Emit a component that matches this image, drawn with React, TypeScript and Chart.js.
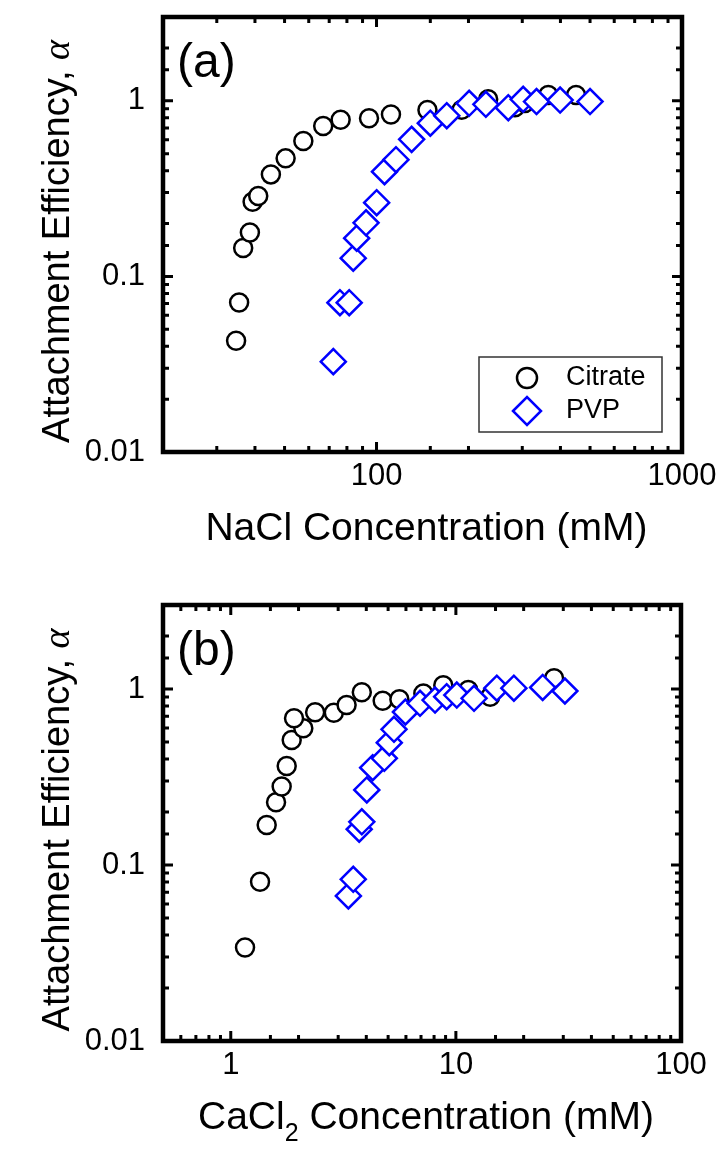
import React, { useEffect, useRef } from 'react';
import { Chart, registerables } from 'chart.js';

Chart.register(...registerables);

// ---- Panel (a): NaCl ----
const citrateNaClX = [34.7, 35.5, 36.6, 38.5, 39.3, 41.0, 45.1, 50.4, 57.6, 66.9, 76.3, 94.5, 111.5, 146.8, 190, 232, 284, 306, 365, 450];
const citrateNaClY = [0.043, 0.071, 0.145, 0.178, 0.266, 0.287, 0.381, 0.47, 0.59, 0.718, 0.78, 0.795, 0.835, 0.886, 0.89, 1.02, 0.918, 0.97, 1.08, 1.08];
const pvpNaClX = [72.2, 75.9, 81.4, 83.9, 86.1, 92.4, 100.1, 106.2, 115.8, 130.3, 150, 169.8, 201, 228, 270, 302, 334, 399, 500];
const pvpNaClY = [0.0327, 0.0708, 0.0708, 0.127, 0.165, 0.202, 0.263, 0.395, 0.462, 0.603, 0.745, 0.822, 0.967, 0.955, 0.913, 1.02, 0.99, 1.01, 0.99];

// ---- Panel (b): CaCl2 ----
const citrateCaClX = [1.157, 1.349, 1.444, 1.589, 1.683, 1.772, 1.865, 2.1, 1.91, 2.37, 2.87, 3.27, 3.82, 4.73, 5.61, 7.17, 8.79, 11.35, 14.2, 27.3];
const citrateCaClY = [0.034, 0.0803, 0.1687, 0.227, 0.279, 0.365, 0.513, 0.598, 0.681, 0.737, 0.733, 0.811, 0.957, 0.857, 0.874, 0.942, 1.05, 0.986, 0.904, 1.15];
const pvpCaClX = [3.33, 3.5, 3.72, 3.82, 4.02, 4.27, 4.81, 5.06, 5.31, 5.97, 6.93, 8.08, 9.1, 10.09, 12.04, 15.2, 18.1, 24.3, 30.5];
const pvpCaClY = [0.0667, 0.0829, 0.1596, 0.176, 0.267, 0.357, 0.404, 0.495, 0.59, 0.74, 0.829, 0.865, 0.904, 0.924, 0.885, 1.01, 1.01, 1.02, 0.974];

// ---- Tick labels ----
const naclTickLabels = [100, 1000];
const caclTickLabels = [1, 10, 100];
const alphaTickLabels = [0.01, 0.1, 1];

const seriesNames = ['Citrate', 'PVP'];

const FONT = '"Liberation Sans", Arial, Helvetica, sans-serif';

function near(a: number, b: number) {
  return Math.abs(Math.log10(a) - Math.log10(b)) < 1e-6;
}

function labelCb(list: number[]) {
  return (value: any) => {
    const v = Number(value);
    const hit = list.find((l) => near(l, v));
    return hit !== undefined ? String(hit) : '';
  };
}

const framePlugin = {
  id: 'frameTicks',
  afterDraw(chart: any) {
    const { ctx, chartArea: a } = chart;
    const xs = chart.scales.x;
    const ys = chart.scales.y;
    const isMajor = (v: number) => Math.abs(Math.log10(v) - Math.round(Math.log10(v))) < 1e-6;
    ctx.save();
    ctx.strokeStyle = '#000';
    ctx.lineWidth = 3;
    xs.ticks.forEach((t: any) => {
      const px = xs.getPixelForValue(t.value);
      if (px <= a.left + 2 || px >= a.right - 2) return;
      const len = isMajor(t.value) ? 10 : 6;
      ctx.beginPath();
      ctx.moveTo(px, a.bottom);
      ctx.lineTo(px, a.bottom - len);
      ctx.moveTo(px, a.top);
      ctx.lineTo(px, a.top + len);
      ctx.stroke();
    });
    ys.ticks.forEach((t: any) => {
      const py = ys.getPixelForValue(t.value);
      if (py <= a.top + 2 || py >= a.bottom - 2) return;
      const len = isMajor(t.value) ? 10 : 6;
      ctx.beginPath();
      ctx.moveTo(a.left, py);
      ctx.lineTo(a.left + len, py);
      ctx.moveTo(a.right, py);
      ctx.lineTo(a.right - len, py);
      ctx.stroke();
    });
    ctx.lineWidth = 4.5;
    ctx.strokeRect(a.left, a.top, a.right - a.left, a.bottom - a.top);
    ctx.restore();
  },
};

function annotationPlugin(panel: string, xTitle: 'nacl' | 'cacl', withLegend: boolean) {
  return {
    id: 'annot' + panel,
    afterDraw(chart: any) {
      const { ctx, chartArea: a } = chart;
      ctx.save();
      ctx.fillStyle = '#000';
      ctx.textAlign = 'left';
      ctx.textBaseline = 'alphabetic';

      // panel label
      ctx.font = `48px ${FONT}`;
      ctx.fillText(panel, a.left + 14, a.top + 60);

      // y title (rotated), with italic alpha
      const yMain = 'Attachment Efficiency, ';
      const yAlpha = 'α';
      ctx.save();
      ctx.translate(69, (a.top + a.bottom) / 2 + 7);
      ctx.rotate(-Math.PI / 2);
      ctx.font = `38px ${FONT}`;
      const w1 = ctx.measureText(yMain).width;
      ctx.font = `italic 38px "Liberation Serif", serif`;
      const w2 = ctx.measureText(yAlpha).width;
      const sx = -(w1 + w2) / 2;
      ctx.font = `38px ${FONT}`;
      ctx.fillText(yMain, sx, 0);
      ctx.font = `italic 38px "Liberation Serif", serif`;
      ctx.fillText(yAlpha, sx + w1, 0);
      ctx.restore();

      // x title
      const cx = (a.left + a.right) / 2 + 4;
      const by = a.bottom + 88;
      if (xTitle === 'nacl') {
        ctx.font = `39px ${FONT}`;
        ctx.textAlign = 'center';
        ctx.fillText('NaCl Concentration (mM)', cx, by);
      } else {
        const p1 = 'CaCl';
        const p2 = '2';
        const p3 = ' Concentration (mM)';
        ctx.font = `39px ${FONT}`;
        const w1x = ctx.measureText(p1).width;
        const w3x = ctx.measureText(p3).width;
        ctx.font = `25px ${FONT}`;
        const w2x = ctx.measureText(p2).width;
        const x0 = cx - (w1x + w2x + w3x) / 2;
        ctx.font = `39px ${FONT}`;
        ctx.fillText(p1, x0, by);
        ctx.font = `25px ${FONT}`;
        ctx.fillText(p2, x0 + w1x, by + 12);
        ctx.font = `39px ${FONT}`;
        ctx.fillText(p3, x0 + w1x + w2x, by);
      }

      if (withLegend) {
        const bw = 183;
        const bh = 75;
        const bx = a.right - 20 - bw;
        const byy = a.bottom - 20 - bh;
        ctx.lineWidth = 1.5;
        ctx.strokeStyle = '#333';
        ctx.strokeRect(bx, byy, bw, bh);
        const mx = bx + 48;
        const r1 = byy + 21;
        const r2 = byy + 54;
        ctx.lineWidth = 2.5;
        ctx.strokeStyle = '#000';
        ctx.beginPath();
        ctx.arc(mx, r1, 10, 0, Math.PI * 2);
        ctx.stroke();
        ctx.strokeStyle = '#0000ff';
        ctx.beginPath();
        ctx.moveTo(mx - 14, r2);
        ctx.lineTo(mx, r2 - 14);
        ctx.lineTo(mx + 14, r2);
        ctx.lineTo(mx, r2 + 14);
        ctx.closePath();
        ctx.stroke();
        ctx.fillStyle = '#000';
        ctx.font = `27px ${FONT}`;
        ctx.textAlign = 'left';
        ctx.textBaseline = 'middle';
        ctx.fillText(seriesNames[0], bx + 87, r1);
        ctx.fillText(seriesNames[1], bx + 87, r2);
      }
      ctx.restore();
    },
  };
}

function buildConfig(opts: {
  cx: number[]; cy: number[]; px: number[]; py: number[];
  xMin: number; xMax: number; xLabels: number[];
  padTop: number; padRight: number; xAxisH: number;
  panel: string; xTitle: 'nacl' | 'cacl'; legend: boolean;
}): any {
  const toPts = (xs: number[], ys: number[]) => xs.map((x, i) => ({ x, y: ys[i] }));
  return {
    type: 'scatter',
    data: {
      datasets: [
        {
          label: seriesNames[0],
          data: toPts(opts.cx, opts.cy),
          pointStyle: 'circle',
          pointRadius: 9,
          pointHoverRadius: 9,
          borderWidth: 2.5,
          borderColor: '#000000',
          backgroundColor: '#ffffff',
          order: 2,
        },
        {
          label: seriesNames[1],
          data: toPts(opts.px, opts.py),
          pointStyle: 'rectRot',
          pointRadius: 12.5,
          pointHoverRadius: 12.5,
          borderWidth: 2.5,
          borderColor: '#0000ff',
          backgroundColor: '#ffffff',
          order: 1,
        },
      ],
    },
    options: {
      responsive: false,
      animation: false,
      events: [],
      layout: { padding: { top: opts.padTop, right: opts.padRight, left: 0, bottom: 0 } },
      plugins: { legend: { display: false }, tooltip: { enabled: false } },
      scales: {
        x: {
          type: 'logarithmic',
          position: 'bottom',
          min: opts.xMin,
          max: opts.xMax,
          grid: { display: false, drawTicks: false },
          border: { display: false },
          ticks: {
            autoSkip: false,
            maxRotation: 0,
            minRotation: 0,
            padding: 6,
            color: '#000',
            font: { family: FONT, size: 31 },
            callback: labelCb(opts.xLabels),
          },
          afterFit: (s: any) => {
            s.height = opts.xAxisH;
            s.paddingLeft = 0;
            s.paddingRight = 0;
          },
        },
        y: {
          type: 'logarithmic',
          position: 'left',
          min: 0.01,
          max: 3,
          grid: { display: false, drawTicks: false },
          border: { display: false },
          ticks: {
            autoSkip: false,
            padding: 18,
            color: '#000',
            font: { family: FONT, size: 31 },
            callback: labelCb(alphaTickLabels),
          },
          afterFit: (s: any) => {
            s.width = 163;
            s.paddingTop = 0;
            s.paddingBottom = 0;
          },
        },
      },
    },
    plugins: [framePlugin, annotationPlugin(opts.panel, opts.xTitle, opts.legend)],
  };
}

export default function App() {
  const refA = useRef<HTMLCanvasElement | null>(null);
  const refB = useRef<HTMLCanvasElement | null>(null);

  useEffect(() => {
    if (!refA.current || !refB.current) return;
    const chartA = new Chart(refA.current, buildConfig({
      cx: citrateNaClX, cy: citrateNaClY, px: pvpNaClX, py: pvpNaClY,
      xMin: 20, xMax: 1000, xLabels: naclTickLabels,
      padTop: 17, padRight: 41, xAxisH: 124,
      panel: '(a)', xTitle: 'nacl', legend: true,
    }));
    const chartB = new Chart(refB.current, buildConfig({
      cx: citrateCaClX, cy: citrateCaClY, px: pvpCaClX, py: pvpCaClY,
      xMin: 0.5, xMax: 100, xLabels: caclTickLabels,
      padTop: 29, padRight: 42, xAxisH: 111,
      panel: '(b)', xTitle: 'cacl', legend: false,
    }));
    return () => {
      chartA.destroy();
      chartB.destroy();
    };
  }, []);

  return (
    <div style={{ position: 'absolute', left: 0, top: 0, width: 723, height: 1152, background: '#fff' }}>
      <canvas ref={refA} width={723} height={576} style={{ display: 'block', width: 723, height: 576 }} />
      <canvas ref={refB} width={723} height={576} style={{ display: 'block', width: 723, height: 576 }} />
    </div>
  );
}
